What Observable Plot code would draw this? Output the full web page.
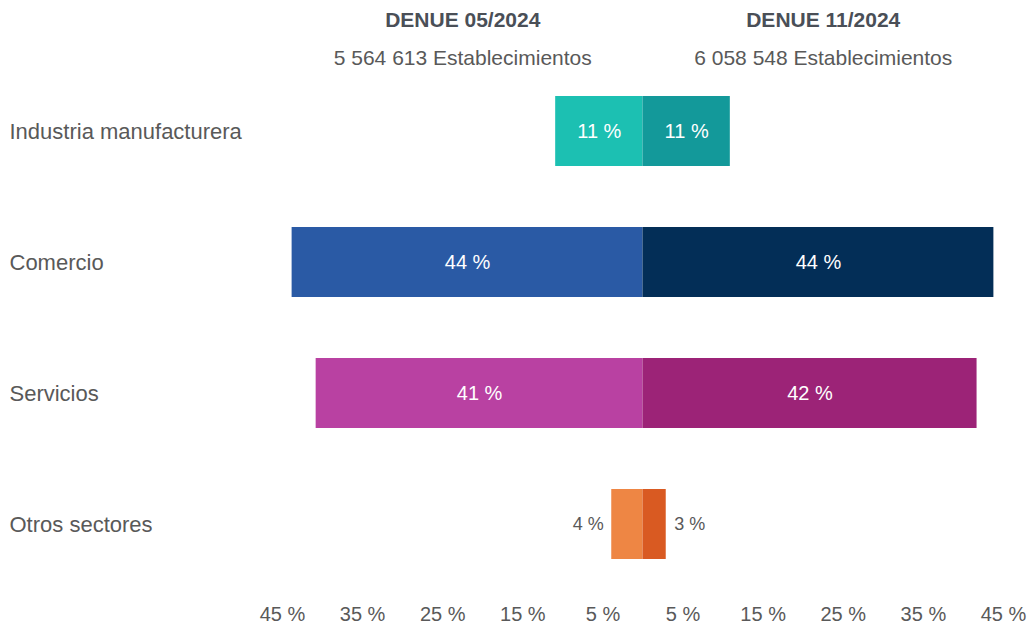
<!DOCTYPE html>
<html>
<head>
<meta charset="utf-8">
<script src="https://cdn.jsdelivr.net/npm/d3@7"></script>
<script src="https://cdn.jsdelivr.net/npm/@observablehq/plot@0.6"></script>
<style>
  html, body { margin: 0; padding: 0; background: #fff; }
</style>
</head>
<body>
<div id="chart"></div>
<script>
const categories = ["Industria manufacturera", "Comercio", "Servicios", "Otros sectores"];
const may2024 = [10.9, 43.8, 40.8, 3.9];
const nov2024 = [10.9, 43.8, 41.7, 2.9];
const mayColors = ["#1cc0b2", "#2a5aa5", "#b941a2", "#ee8644"];
const novColors = ["#13999a", "#032e57", "#9c2377", "#d95a22"];
const periods = ["DENUE 05/2024", "DENUE 11/2024"];
const totals = ["5 564 613 Establecimientos", "6 058 548 Establecimientos"];
const tickValues = [-45, -35, -25, -15, -5, 5, 15, 25, 35, 45];

const rows = categories.flatMap((c, i) => [
  {cat: c, side: -1, value: may2024[i], fill: mayColors[i]},
  {cat: c, side: 1, value: nov2024[i], fill: novColors[i]}
]);
const inside = rows.filter(d => d.value >= 6);
const outsideLeft = rows.filter(d => d.value < 6 && d.side < 0);
const outsideRight = rows.filter(d => d.value < 6 && d.side > 0);
const headers = periods.map((p, i) => ({period: p, total: totals[i], side: i === 0 ? -1 : 1}));

const textGray = "#595959";
const headGray = "#4a4f57";
const pct = d => Math.round(d.value) + " %";

const chart = Plot.plot({
  width: 1031,
  height: 624,
  marginLeft: 282,
  marginRight: 28,
  marginTop: 64,
  marginBottom: 34,
  style: {fontFamily: "'Liberation Sans', Arial, sans-serif", color: textGray, background: "#fff"},
  x: {domain: [-45, 45]},
  y: {domain: categories, paddingInner: 0.467, paddingOuter: 0.233, axis: null},
  color: {type: "identity"},
  marks: [
    Plot.barX(rows, {y: "cat", x1: 0, x2: d => d.side * d.value, fill: "fill"}),
    Plot.text(inside, {y: "cat", x: d => d.side * d.value / 2, text: pct, fill: "white", fontSize: 20}),
    Plot.text(outsideLeft, {y: "cat", x: d => d.side * d.value, text: pct, fill: textGray, fontSize: 18, textAnchor: "end", dx: -8}),
    Plot.text(outsideRight, {y: "cat", x: d => d.side * d.value, text: pct, fill: textGray, fontSize: 18, textAnchor: "start", dx: 8}),
    Plot.text(categories, {y: d => d, text: d => d, frameAnchor: "left", textAnchor: "start", dx: -273, fontSize: 22, fill: textGray}),
    Plot.text(headers, {x: d => d.side * 22.5, text: "period", frameAnchor: "top", lineAnchor: "middle", dy: -44, fontSize: 21, fontWeight: "bold", fill: headGray}),
    Plot.text(headers, {x: d => d.side * 22.5, text: "total", frameAnchor: "top", lineAnchor: "middle", dy: -6, fontSize: 21, fill: textGray}),
    Plot.axisX({ticks: tickValues, tickFormat: d => Math.abs(d) + " %", tickSize: 0, tickPadding: 16, fontSize: 20, label: null})
  ]
});

document.getElementById("chart").appendChild(chart);
</script>
</body>
</html>
